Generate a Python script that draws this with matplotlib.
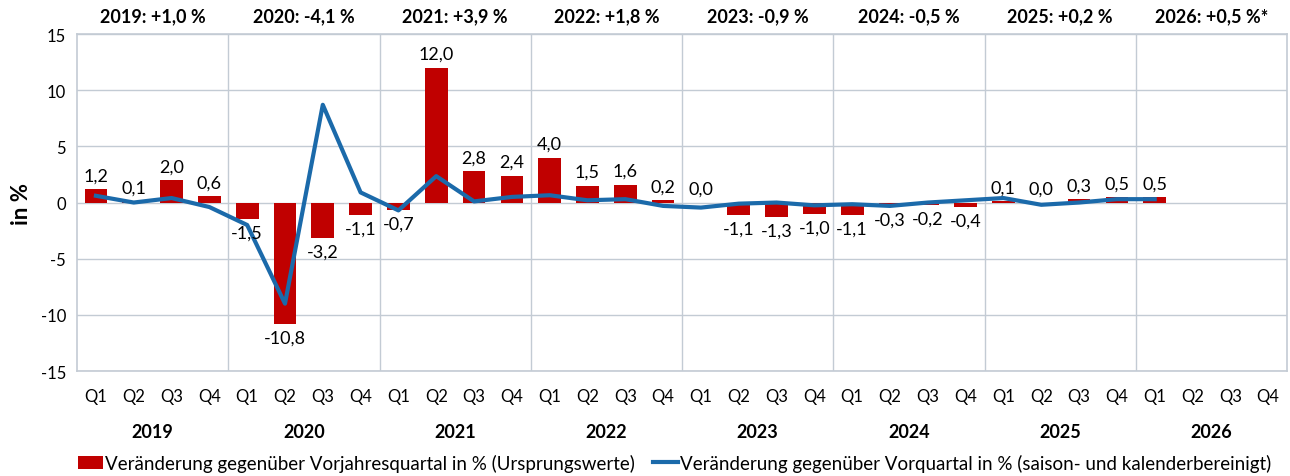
import matplotlib.pyplot as plt
import numpy as np

plt.rcParams['font.family'] = ['Lato', 'DejaVu Sans']

# Daten
years = ['2019', '2020', '2021', '2022', '2023', '2024', '2025', '2026']
year_headers = ['2019: +1,0 %', '2020: -4,1 %', '2021: +3,9 %', '2022: +1,8 %',
                '2023: -0,9 %', '2024: -0,5 %', '2025: +0,2 %', '2026: +0,5 %*']
quarters = ['Q1', 'Q2', 'Q3', 'Q4'] * len(years)

yoy = [1.2, 0.1, 2.0, 0.6,
       -1.5, -10.8, -3.2, -1.1,
       -0.7, 12.0, 2.8, 2.4,
       4.0, 1.5, 1.6, 0.2,
       0.0, -1.1, -1.3, -1.0,
       -1.1, -0.3, -0.2, -0.4,
       0.1, 0.0, 0.3, 0.5,
       0.5]
qoq = [0.6, 0.0, 0.4, -0.4,
       -2.0, -9.0, 8.7, 0.9,
       -0.7, 2.35, 0.1, 0.5,
       0.65, 0.2, 0.3, -0.3,
       -0.45, -0.1, 0.0, -0.25,
       -0.15, -0.3, 0.0, 0.2,
       0.4, -0.2, 0.0, 0.3,
       0.3]

red = '#C00000'
blue = '#1B6AAA'
gridc = '#C3CBD4'

fig = plt.figure(figsize=(12.9, 4.77), dpi=100)
ax = fig.add_axes([0.0597, 0.22, 0.938, 0.7066])

x = np.arange(len(yoy))
bars = ax.bar(x, yoy, width=0.6, color=red, zorder=2,
              label='Veränderung gegenüber Vorjahresquartal in % (Ursprungswerte)')
line, = ax.plot(x, qoq, color=blue, lw=3, zorder=3,
                label='Veränderung gegenüber Vorquartal in % (saison- und kalenderbereinigt)')

for xi, v in zip(x, yoy):
    lbl = ('%.1f' % v).replace('.', ',')
    if v >= 0:
        ax.text(xi, v + 0.5, lbl, ha='center', va='bottom', fontsize=13, zorder=4)
    else:
        ax.text(xi, v - 0.5, lbl, ha='center', va='top', fontsize=13, zorder=4)

ax.set_xlim(-0.5, len(quarters) - 0.5)
ax.set_ylim(-15, 15)
ax.set_yticks([-15, -10, -5, 0, 5, 10, 15])
ax.set_yticklabels(['-15', '-10', '-5', '0', '5', '10', '15'], fontsize=12)
ax.set_xticks(np.arange(len(quarters)))
ax.set_xticklabels(quarters, fontsize=12)
ax.tick_params(length=0, pad=8)
ax.tick_params(axis='x', pad=12)

ax.grid(axis='y', color=gridc, lw=1, zorder=0)
for b in np.arange(3.5, len(quarters) - 1, 4):
    ax.axvline(b, color=gridc, lw=1, zorder=0)
for s in ax.spines.values():
    s.set_color(gridc)
    s.set_linewidth(1.2)

ax.set_ylabel('in %', fontsize=16, fontweight='bold', labelpad=6)

trans = ax.get_xaxis_transform()
for i, (yr, hd) in enumerate(zip(years, year_headers)):
    cx = i * 4 + 1.5
    ax.text(cx, -0.18, yr, transform=trans, ha='center', va='center',
            fontsize=13, fontweight='bold')
    ax.text(cx, 1.055, hd, transform=trans, ha='center', va='center',
            fontsize=13, fontweight='bold')

fig.legend([bars, line], [bars.get_label(), line.get_label()],
           loc='center', ncol=2, bbox_to_anchor=(0.523, 0.028),
           frameon=False, fontsize=13.5, handlelength=1.3, handletextpad=0.1,
           columnspacing=1.0, borderpad=0, borderaxespad=0)

fig.savefig('out.png', dpi=100)
